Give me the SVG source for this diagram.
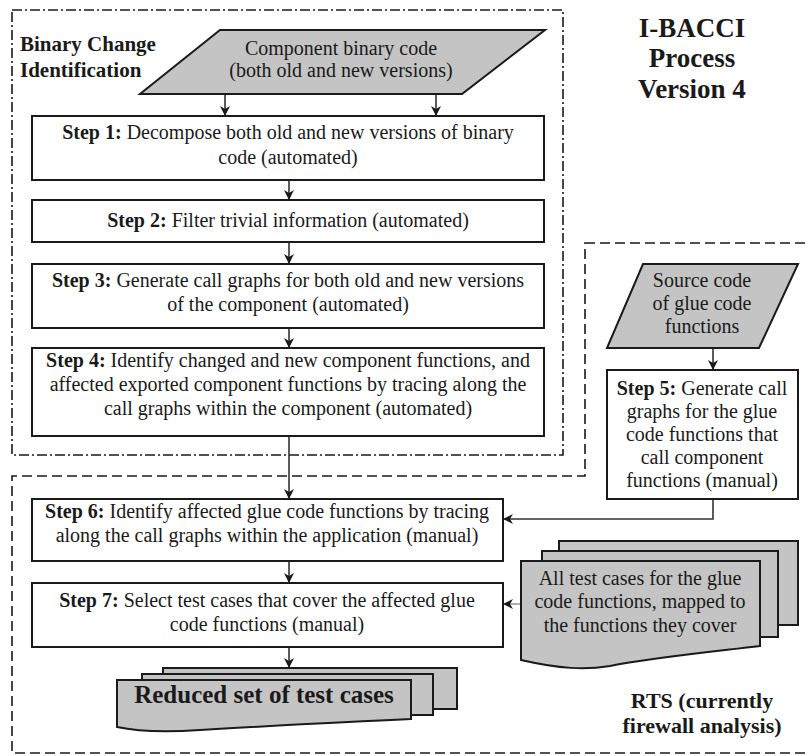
<svg xmlns="http://www.w3.org/2000/svg" width="810" height="756" viewBox="0 0 810 756">
<style>
.t{font-family:"Liberation Serif","Times New Roman",serif;font-size:20px;fill:#1a1a1a;text-anchor:middle}
.b{font-weight:bold}
.box{fill:#fff;stroke:#1a1a1a;stroke-width:2}
.gray{fill:#c4c4c4;stroke:#1a1a1a;stroke-width:2;stroke-linejoin:miter}
.ln{fill:none;stroke:#333;stroke-width:1.6}
.dd{fill:none;stroke:#1a1a1a;stroke-width:1.6;stroke-dasharray:10 3 2 3}
.da{fill:none;stroke:#1a1a1a;stroke-width:1.6;stroke-dasharray:10 5}
</style>
<defs>
<marker id="ah" markerUnits="userSpaceOnUse" markerWidth="11" markerHeight="10" refX="10" refY="5" orient="auto">
<path d="M0,0 L10,5 L0,10 L3,5 Z" fill="#1a1a1a"/>
</marker>
</defs>
<rect width="810" height="756" fill="#fff"/>

<g id="regions">
<rect class="dd" x="12" y="10" width="551" height="445"/>
<path class="da" d="M585,243 H830 V753 H12 V476 H585 Z"/>
</g>

<g id="labels">
<text class="t b" style="text-anchor:start;font-size:21px" x="20" y="51">Binary Change</text>
<text class="t b" style="text-anchor:start;font-size:21px" x="20" y="77">Identification</text>
<text class="t b" style="font-size:27px" x="692" y="37">I-BACCI</text>
<text class="t b" style="font-size:27px" x="692" y="67">Process</text>
<text class="t b" style="font-size:27px" x="692" y="98">Version 4</text>
<text class="t b" style="font-size:22px" x="702" y="708">RTS (currently</text>
<text class="t b" style="font-size:22px" x="702" y="733">firewall analysis)</text>
</g>

<g id="connectors">
<line class="ln" x1="225" y1="94" x2="225" y2="116" marker-end="url(#ah)"/>
<line class="ln" x1="436" y1="94" x2="436" y2="116" marker-end="url(#ah)"/>
<line class="ln" x1="289" y1="180" x2="289" y2="200" marker-end="url(#ah)"/>
<line class="ln" x1="289" y1="242" x2="289" y2="264" marker-end="url(#ah)"/>
<line class="ln" x1="289" y1="328" x2="289" y2="348" marker-end="url(#ah)"/>
<line class="ln" x1="289" y1="436" x2="289" y2="499" marker-end="url(#ah)"/>
<line class="ln" x1="713" y1="348" x2="713" y2="370" marker-end="url(#ah)"/>
<path class="ln" d="M713,499 V519 H503" marker-end="url(#ah)"/>
<line class="ln" x1="289" y1="561" x2="289" y2="583" marker-end="url(#ah)"/>
<line class="ln" style="stroke:#999" x1="521" y1="604" x2="503" y2="604" marker-end="url(#ah)"/>
<line class="ln" x1="289" y1="647" x2="289" y2="668" marker-end="url(#ah)"/>
</g>

<g id="binary-code">
<polygon class="gray" points="220,30 545,30 462,94 140,94"/>
<text class="t" x="341" y="55">Component binary code</text>
<text class="t" x="341" y="77">(both old and new versions)</text>
</g>

<g id="step1">
<rect class="box" x="32" y="116" width="512" height="64"/>
<text class="t" x="288" y="139"><tspan class="b">Step 1:</tspan> Decompose both old and new versions of binary</text>
<text class="t" x="288" y="164">code (automated)</text>
</g>

<g id="step2">
<rect class="box" x="32" y="200" width="512" height="42"/>
<text class="t" x="288" y="227"><tspan class="b">Step 2:</tspan> Filter trivial information (automated)</text>
</g>

<g id="step3">
<rect class="box" x="32" y="264" width="512" height="64"/>
<text class="t" x="288" y="287"><tspan class="b">Step 3:</tspan> Generate call graphs for both old and new versions</text>
<text class="t" x="288" y="311">of the component (automated)</text>
</g>

<g id="step4">
<rect class="box" x="32" y="348" width="512" height="88"/>
<text class="t" x="288" y="367"><tspan class="b">Step 4:</tspan> Identify changed and new component functions, and</text>
<text class="t" x="288" y="391">affected exported component functions by tracing along the</text>
<text class="t" x="288" y="415">call graphs within the component (automated)</text>
</g>

<g id="source-code">
<polygon class="gray" points="643,264 798,264 759,348 607,348"/>
<text class="t" x="702" y="287">Source code</text>
<text class="t" x="702" y="310">of glue code</text>
<text class="t" x="702" y="333">functions</text>
</g>

<g id="step5">
<rect class="box" x="607" y="370" width="191" height="129"/>
<text class="t" x="702" y="395"><tspan class="b">Step 5:</tspan> Generate call</text>
<text class="t" x="702" y="418">graphs for the glue</text>
<text class="t" x="702" y="441">code functions that</text>
<text class="t" x="702" y="464">call component</text>
<text class="t" x="702" y="487">functions (manual)</text>
</g>

<g id="step6">
<rect class="box" x="32" y="499" width="471" height="62"/>
<text class="t" x="267" y="518"><tspan class="b">Step 6:</tspan> Identify affected glue code functions by tracing</text>
<text class="t" x="267" y="542">along the call graphs within the application (manual)</text>
</g>

<g id="step7">
<rect class="box" x="32" y="583" width="471" height="64"/>
<text class="t" x="267" y="607"><tspan class="b">Step 7:</tspan> Select test cases that cover the affected glue</text>
<text class="t" x="267" y="631">code functions (manual)</text>
</g>

<g id="all-test-cases">
<rect class="gray" x="559" y="541" width="239" height="84"/>
<rect class="gray" x="542" y="551" width="236" height="86"/>
<path class="gray" d="M521,561 H760 V646 C710,652 650,658 610,666 C585,670 560,669 521,660 Z"/>
<text class="t" x="640" y="585">All test cases for the glue</text>
<text class="t" x="640" y="608">code functions, mapped to</text>
<text class="t" x="640" y="632">the functions they cover</text>
</g>

<g id="reduced-set">
<rect class="gray" x="163" y="668" width="294" height="41"/>
<rect class="gray" x="142" y="674" width="291" height="41"/>
<path class="gray" d="M117,680 H411 V719 C340,722 270,726 200,730 C170,732 140,732 117,727 Z"/>
<text class="t b" style="font-size:25px" x="264" y="703">Reduced set of test cases</text>
</g>
</svg>
